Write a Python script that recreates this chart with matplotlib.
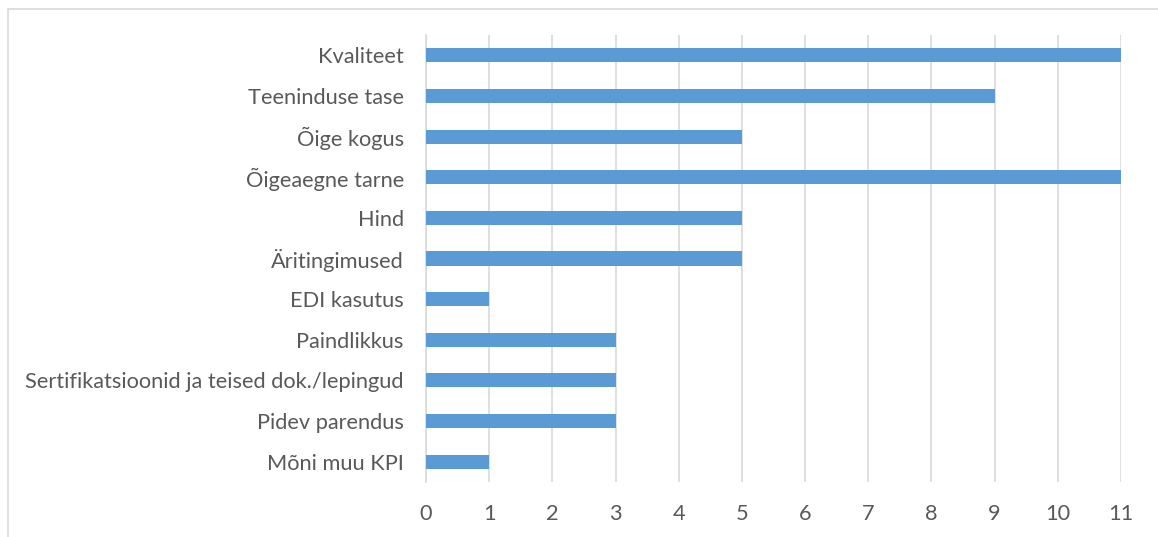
import matplotlib.pyplot as plt
from matplotlib.patches import Rectangle

# Hinnatavad tarnija KPI-d ja vastuste arv
categories = [
    "Kvaliteet",
    "Teeninduse tase",
    "Õige kogus",
    "Õigeaegne tarne",
    "Hind",
    "Äritingimused",
    "EDI kasutus",
    "Paindlikkus",
    "Sertifikatsioonid ja teised dok./lepingud",
    "Pidev parendus",
    "Mõni muu KPI",
]
values = [11, 9, 5, 11, 5, 5, 1, 3, 3, 3, 1]
x_ticks = list(range(0, 12))

plt.rcParams['font.family'] = ['Lato', 'DejaVu Sans']
text_color = '#595959'
grid_color = '#D9D9D9'
bar_color = '#5B9BD5'

fig = plt.figure(figsize=(11.58, 5.37), dpi=100)
ax = fig.add_axes([426 / 1158, 1 - 482 / 537, (1121 - 426) / 1158, (482 - 35) / 537])

# Raam ümber diagrammi
fig.patches.append(Rectangle((8 / 1158, -0.1), 1.2, 1 - 9 / 537 + 0.1,
                             transform=fig.transFigure, fill=False,
                             edgecolor='#D9D9D9', linewidth=1.2))

pos = list(range(len(categories)))
ax.barh(pos, values, height=0.345, color=bar_color, zorder=3)

ax.set_xlim(0, 11)
ax.set_ylim(len(categories) - 0.5, -0.5)
ax.set_xticks(x_ticks)
ax.set_yticks(pos)
ax.set_yticklabels(categories)

ax.grid(axis='x', color=grid_color, linewidth=1.2, zorder=0)
for side in ['top', 'right', 'bottom']:
    ax.spines[side].set_visible(False)
ax.spines['left'].set_color(grid_color)
ax.spines['left'].set_linewidth(1.2)

ax.tick_params(axis='both', length=0, colors=text_color, labelsize=15.7)
ax.tick_params(axis='x', pad=15.5)
ax.tick_params(axis='y', pad=16)

fig.savefig('out.png', dpi=100)
